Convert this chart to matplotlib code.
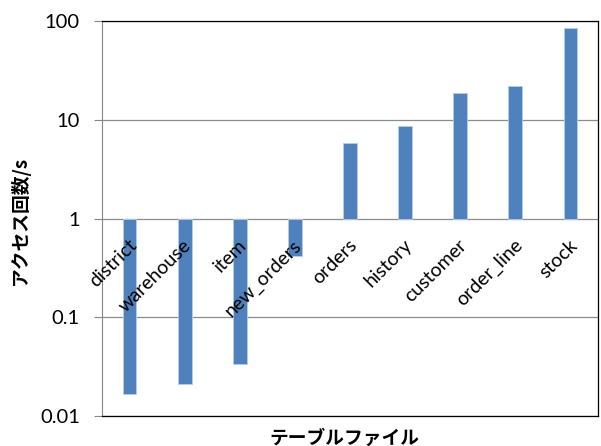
import matplotlib
matplotlib.use("Agg")
import matplotlib.pyplot as plt
import matplotlib.ticker as mticker
from matplotlib.transforms import offset_copy
import numpy as np

categories = ["district", "warehouse", "item", "new_orders", "orders",
              "history", "customer", "order_line", "stock"]
values = [0.0168, 0.0211, 0.0336, 0.417, 5.8, 8.65, 18.7, 22.1, 84.5]
yticks = [0.01, 0.1, 1, 10, 100]
ytick_labels = ["0.01", "0.1", "1", "10", "100"]

latin = "Lato"
jp = ["Noto Sans CJK JP", "DejaVu Sans"]

fig = plt.figure(figsize=(6.01, 4.46), dpi=100)
ax = fig.add_axes([102/601, 1 - 416/446, (598 - 102)/601, (416 - 21)/446])

x = np.arange(len(categories))
ax.bar(x, np.array(values) - 1, bottom=1, width=0.25, color="#4F81BD",
       edgecolor="#B9CDE5", linewidth=0.6, zorder=3)

ax.set_yscale("log")
ax.set_ylim(0.01, 100)
ax.set_xlim(-0.5, len(categories) - 0.5)
ax.yaxis.set_major_locator(mticker.FixedLocator(yticks))
ax.yaxis.set_major_formatter(mticker.FixedFormatter(ytick_labels))
ax.yaxis.set_minor_locator(mticker.NullLocator())
ax.set_xticks([])
for t in ax.get_yticklabels():
    t.set_fontfamily(latin)
    t.set_fontsize(14.5)
ax.tick_params(axis="y", length=6, width=0.8, color="#868686", pad=10)

ax.grid(axis="y", color="#8C8C8C", linewidth=0.9, zorder=0)
ax.spines["left"].set_color("#868686")
for s in ["top", "right", "bottom"]:
    ax.spines[s].set_color("#000000")
    ax.spines[s].set_linewidth(0.9)

for i, name in enumerate(categories):
    tr = offset_copy(ax.transData, fig=fig, x=4, y=-24, units="dots")
    ax.text(i, 1, name, transform=tr, rotation=45, rotation_mode="anchor",
            ha="right", va="center", fontsize=14, family=latin, zorder=4)

fig.text(20/601, 1 - 220/446, "アクセス回数/s", rotation=90, ha="center",
         va="center", fontsize=13.5, fontweight="bold", family=jp)
fig.text(344/601, 1 - 438/446, "テーブルファイル", ha="center", va="center",
         fontsize=13.5, fontweight="bold", family=jp)

fig.savefig("out.png", dpi=100)
